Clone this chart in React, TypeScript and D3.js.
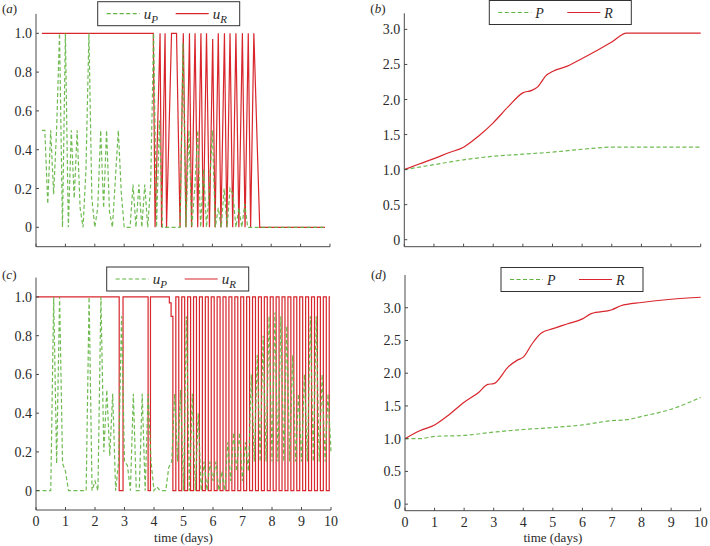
import React from 'react';
import * as d3 from 'd3';

// ---------- data ----------
const dayTicks = [0, 1, 2, 3, 4, 5, 6, 7, 8, 9, 10];
const ctrlTicks = [0, 0.2, 0.4, 0.6, 0.8, 1.0];
const stateTicks = [0, 0.5, 1.0, 1.5, 2.0, 2.5, 3.0];

// panel (a): u_P sampled every 0.1 day from t = 0.2
const aUpStart = 0.2;
const aUpStep = 0.1;
const aUp = [
  0.5, 0.5, 0.12, 0.5, 0.17, 0.5, 1.0, 0.0, 1.0, 0.0,
  0.5, 0.15, 0.5, 0.1, 0.0, 0.3, 1.0, 0.15, 0.0, 0.1,
  0.5, 0.1, 0.5, 0.08, 0.0, 0.25, 0.5, 0.18, 0.0, 0.0,
  0.0, 0.22, 0.0, 0.22, 0.0, 0.22, 0.0, 0.22, 1.0, 0.0,
  0.55, 0.0, 0.0, 0.0, 0.0, 0.0, 0.0, 0.0, 0.95, 0.0,
  0.5, 0.0, 0.2, 0.5, 0.0, 0.3, 0.0, 0.2, 0.5, 0.0,
  0.1, 0.0, 0.2, 0.0, 0.2, 0.17, 0.0, 0.1, 0.0, 0.12,
  0.0, 0.0, 0.0, 0.0, 0.0, 0.0, 0.0, 0.0, 0.0, 0.0,
  0.0, 0.0, 0.0, 0.0, 0.0, 0.0, 0.0, 0.0, 0.0, 0.0,
  0.0, 0.0, 0.0, 0.0, 0.0, 0.0, 0.0,
];
// panel (a): u_R as (time, value)
const aUr: [number, number][] = [
  [0.2, 1], [3.99, 1], [4.05, 0], [4.22, 1], [4.27, 0], [4.39, 1], [4.44, 0],
  [4.61, 1], [4.78, 1], [4.9, 0], [5.01, 1], [5.1, 0], [5.22, 1], [5.29, 0],
  [5.41, 1], [5.5, 0], [5.61, 1], [5.69, 0], [5.8, 1], [5.9, 0], [6.01, 0.97],
  [6.09, 0], [6.2, 1], [6.29, 0], [6.41, 1], [6.49, 0], [6.6, 1], [6.69, 0],
  [6.8, 1], [6.9, 0], [7.02, 1], [7.11, 0], [7.22, 1], [7.3, 0], [7.41, 1],
  [7.61, 0], [9.83, 0],
];

// panel (b)
const bR: [number, number][] = [
  [0, 1.0], [0.5, 1.08], [1, 1.157], [1.5, 1.24], [2, 1.32], [2.5, 1.476],
  [3, 1.667], [3.5, 1.895], [4, 2.095], [4.3, 2.13], [4.5, 2.18], [4.8, 2.35],
  [5, 2.4], [5.5, 2.476], [6, 2.586], [6.5, 2.7], [7, 2.82], [7.5, 2.948], [10, 2.948],
];
const bP: [number, number][] = [
  [0, 1.0], [1, 1.07], [2, 1.14], [3, 1.19], [4, 1.22], [5, 1.25],
  [6, 1.29], [7, 1.32], [7.5, 1.32], [10, 1.32],
];

// panel (c): u_P sampled every 0.1 day from t = 0
const cUpStart = 0;
const cUpStep = 0.1;
const cUp = [
  0, 0, 0, 0, 0, 0, 1.0, 0.14, 1.0, 0.14,
  0.1, 0, 0, 0, 0, 0, 0, 0, 1.0, 0,
  0.05, 0, 1.0, 0.2, 0.52, 0.18, 0.5, 0, 0.15, 0.9,
  0.15, 0.13, 0, 0.5, 0, 0, 0.5, 0, 0.5, 0.15,
  0, 0.02, 0, 0, 0, 0.12, 0.15, 0.5, 0.15, 0.52,
  0, 0.9, 0, 0.5, 0, 0.4, 0, 0.15, 0, 0.15,
  0.05, 0.15, 0, 0.1, 0, 0.25, 0.05, 0.3, 0.1, 0.3,
  0.05, 0.25, 0.1, 0.6, 0.15, 0.7, 0.15, 0.8, 0.15, 0.9,
  0.15, 0.92, 0.15, 0.9, 0.15, 0.85, 0.15, 0.7, 0.15, 0.5,
  0.15, 0.6, 0.15, 0.9, 0.15, 0.9, 0.15, 0.6, 0.15, 0.5,
  0.2,
];
// panel (c): u_R switching record (time of switch, new value), held until next switch
const cUr: [number, number][] = [
  [0, 1], [2.82, 0], [2.95, 1], [3.8, 0], [3.88, 1], [4.52, 0.97], [4.58, 0.9],
  [4.64, 0], [4.74, 1], [4.84, 0], [4.94, 1], [5.04, 0], [5.14, 1], [5.24, 0],
  [5.34, 1], [5.44, 0], [5.54, 1], [5.64, 0], [5.74, 1], [5.84, 0], [5.94, 1],
  [6.04, 0], [6.14, 1], [6.24, 0], [6.34, 1], [6.44, 0], [6.54, 1], [6.64, 0],
  [6.74, 1], [6.84, 0], [6.94, 1], [7.04, 0], [7.14, 1], [7.24, 0], [7.34, 1],
  [7.44, 0], [7.54, 1], [7.64, 0], [7.74, 1], [7.84, 0], [7.94, 1], [8.04, 0],
  [8.14, 1], [8.24, 0], [8.34, 1], [8.44, 0], [8.54, 1], [8.64, 0], [8.74, 1],
  [8.84, 0], [8.94, 1], [9.04, 0], [9.14, 1], [9.24, 0], [9.34, 1], [9.44, 0],
  [9.54, 1], [9.64, 0], [9.74, 1], [9.84, 0], [9.94, 1], [9.97, 1],
];

// panel (d)
const dR: [number, number][] = [
  [0, 1.0], [0.5, 1.12], [1, 1.21], [1.5, 1.37], [2, 1.556], [2.5, 1.71],
  [2.8, 1.83], [3, 1.84], [3.5, 2.1], [3.8, 2.2], [4, 2.245], [4.3, 2.45],
  [4.6, 2.61], [5, 2.68], [5.5, 2.755], [6, 2.83], [6.3, 2.91], [7, 2.97],
  [7.3, 3.03], [8, 3.08], [9, 3.13], [10, 3.16],
];
const dP: [number, number][] = [
  [0, 1.0], [0.5, 1.0], [1, 1.035], [2, 1.05], [3, 1.1], [4, 1.14],
  [5, 1.17], [6, 1.21], [7, 1.275], [7.5, 1.29], [8, 1.34], [9, 1.45], [10, 1.63],
];

// ---------- style ----------
const RED = '#d8262c';
const GREEN = '#5fb43f';
const AXIS = '#4a4a4a';
const TEXT = '#2a2a2a';
const FONT = "'Liberation Serif', 'Times New Roman', Times, serif";

const fromGrid = (vals: number[], start: number, step: number): [number, number][] =>
  vals.map((v, i) => [start + i * step, v]);

type CurveKind = 'linear' | 'smooth' | 'step';
type Series = { data: [number, number][]; color: string; dashed: boolean; curve: CurveKind };

type PanelProps = {
  letter: string;
  xRange: [number, number];
  yRange: [number, number];
  yDomain: [number, number];
  yTicks: number[];
  yFmt: (v: number) => string;
  xLabels: boolean;
  legendX: number;
  legendY: number;
  legendNames: [React.ReactNode, React.ReactNode];
  labelY: number;
  series: Series[];
};

const curves = {
  linear: d3.curveLinear,
  smooth: d3.curveMonotoneX,
  step: d3.curveStepAfter,
};

const txt = (size: number, extra: React.CSSProperties = {}): React.CSSProperties => ({
  fontFamily: FONT,
  fontSize: size,
  fill: TEXT,
  ...extra,
});

function Panel(p: PanelProps) {
  const x = d3.scaleLinear().domain([0, 10]).range(p.xRange);
  const y = d3.scaleLinear().domain(p.yDomain).range(p.yRange);
  const x0 = p.xRange[0];
  const yb = p.yRange[0];
  const yt = p.yRange[1];
  const lw = 142, lh = 24;
  const lc = p.legendY + lh / 2;
  return (
    <g>
      {p.series.map((s, i) => {
        const line = d3
          .line<[number, number]>()
          .x((d) => x(d[0]))
          .y((d) => y(d[1]))
          .curve(curves[s.curve]);
        return (
          <path
            key={i}
            d={line(s.data) || ''}
            fill="none"
            stroke={s.color}
            strokeWidth={1.2}
            strokeDasharray={s.dashed ? '4,2.5' : undefined}
            opacity={s.dashed ? 0.9 : 1}
          />
        );
      })}
      {/* axes */}
      <line x1={x0} x2={x0} y1={yt} y2={yb} stroke={AXIS} strokeWidth={1} />
      <line x1={x0} x2={p.xRange[1]} y1={yb} y2={yb} stroke={AXIS} strokeWidth={1} />
      {dayTicks.map((t) => (
        <g key={'x' + t}>
          <line x1={x(t)} x2={x(t)} y1={yb} y2={yb - 3} stroke={AXIS} />
          {p.xLabels && (
            <text x={x(t)} y={yb + 16} textAnchor="middle" style={txt(14)}>
              {t}
            </text>
          )}
        </g>
      ))}
      {p.yTicks.map((t) => (
        <g key={'y' + t}>
          <line x1={x0} x2={x0 + 3} y1={y(t)} y2={y(t)} stroke={AXIS} />
          <text x={x0 - 4} y={y(t) + 5} textAnchor="end" style={txt(14)}>
            {p.yFmt(t)}
          </text>
        </g>
      ))}
      {p.xLabels && (
        <text x={(p.xRange[0] + p.xRange[1]) / 2} y={542} textAnchor="middle" style={txt(13)}>
          time (days)
        </text>
      )}
      {/* panel letter */}
      <text x={x0 - 34} y={p.labelY} style={txt(13)}>
        (<tspan style={{ fontStyle: 'italic' }}>{p.letter}</tspan>)
      </text>
      {/* legend */}
      <rect x={p.legendX} y={p.legendY} width={lw} height={lh} fill="white" stroke="#333" strokeWidth={1} />
      <line x1={p.legendX + 9} x2={p.legendX + 42} y1={lc} y2={lc} stroke={GREEN} strokeWidth={1.2} strokeDasharray="4,2.5" />
      <text x={p.legendX + 46} y={lc + 5} style={txt(14, { fontStyle: 'italic' })}>
        {p.legendNames[0]}
      </text>
      <line x1={p.legendX + 78} x2={p.legendX + 111} y1={lc} y2={lc} stroke={RED} strokeWidth={1.2} />
      <text x={p.legendX + 115} y={lc + 5} style={txt(14, { fontStyle: 'italic' })}>
        {p.legendNames[1]}
      </text>
    </g>
  );
}

const ctrlFmt = (v: number) => (v === 0 ? '0' : v.toFixed(1));
const stateFmt = (v: number) => (v === 0 ? '0' : v.toFixed(1));

const uName = (sub: string) => (
  <>
    <tspan style={{ fontSize: 15 }}>u</tspan>
    <tspan style={{ fontSize: 11 }} dy={4}>{sub}</tspan>
  </>
);

export default function App() {
  return (
    <svg width={710} height={546} style={{ position: 'absolute', left: 0, top: 0, background: 'white' }}>
      <Panel
        letter="a"
        xRange={[36, 330]}
        yRange={[246.7, 13.9]}
        yDomain={[-0.1, 1.1]}
        yTicks={ctrlTicks}
        yFmt={ctrlFmt}
        xLabels={false}
        legendX={97.7}
        legendY={1.7}
        legendNames={[uName('P'), uName('R')]}
        labelY={12.5}
        series={[
          { data: aUr, color: RED, dashed: false, curve: 'linear' },
          { data: fromGrid(aUp, aUpStart, aUpStep), color: GREEN, dashed: true, curve: 'linear' },
        ]}
      />
      <Panel
        letter="b"
        xRange={[404.3, 700.7]}
        yRange={[246.7, 13.3]}
        yDomain={[-0.1, 3.23]}
        yTicks={stateTicks}
        yFmt={stateFmt}
        xLabels={false}
        legendX={489.3}
        legendY={0.5}
        legendNames={['P', 'R']}
        labelY={12.5}
        series={[
          { data: bP, color: GREEN, dashed: true, curve: 'smooth' },
          { data: bR, color: RED, dashed: false, curve: 'smooth' },
        ]}
      />
      <Panel
        letter="c"
        xRange={[36, 331]}
        yRange={[510, 277.6]}
        yDomain={[-0.1, 1.1]}
        yTicks={ctrlTicks}
        yFmt={ctrlFmt}
        xLabels={true}
        legendX={106.7}
        legendY={267}
        legendNames={[uName('P'), uName('R')]}
        labelY={279}
        series={[
          { data: cUr, color: RED, dashed: false, curve: 'step' },
          { data: fromGrid(cUp, cUpStart, cUpStep), color: GREEN, dashed: true, curve: 'linear' },
        ]}
      />
      <Panel
        letter="d"
        xRange={[405, 700.7]}
        yRange={[510.7, 275]}
        yDomain={[-0.1, 3.5]}
        yTicks={stateTicks}
        yFmt={stateFmt}
        xLabels={true}
        legendX={501}
        legendY={267.5}
        legendNames={['P', 'R']}
        labelY={279}
        series={[
          { data: dP, color: GREEN, dashed: true, curve: 'smooth' },
          { data: dR, color: RED, dashed: false, curve: 'smooth' },
        ]}
      />
    </svg>
  );
}
